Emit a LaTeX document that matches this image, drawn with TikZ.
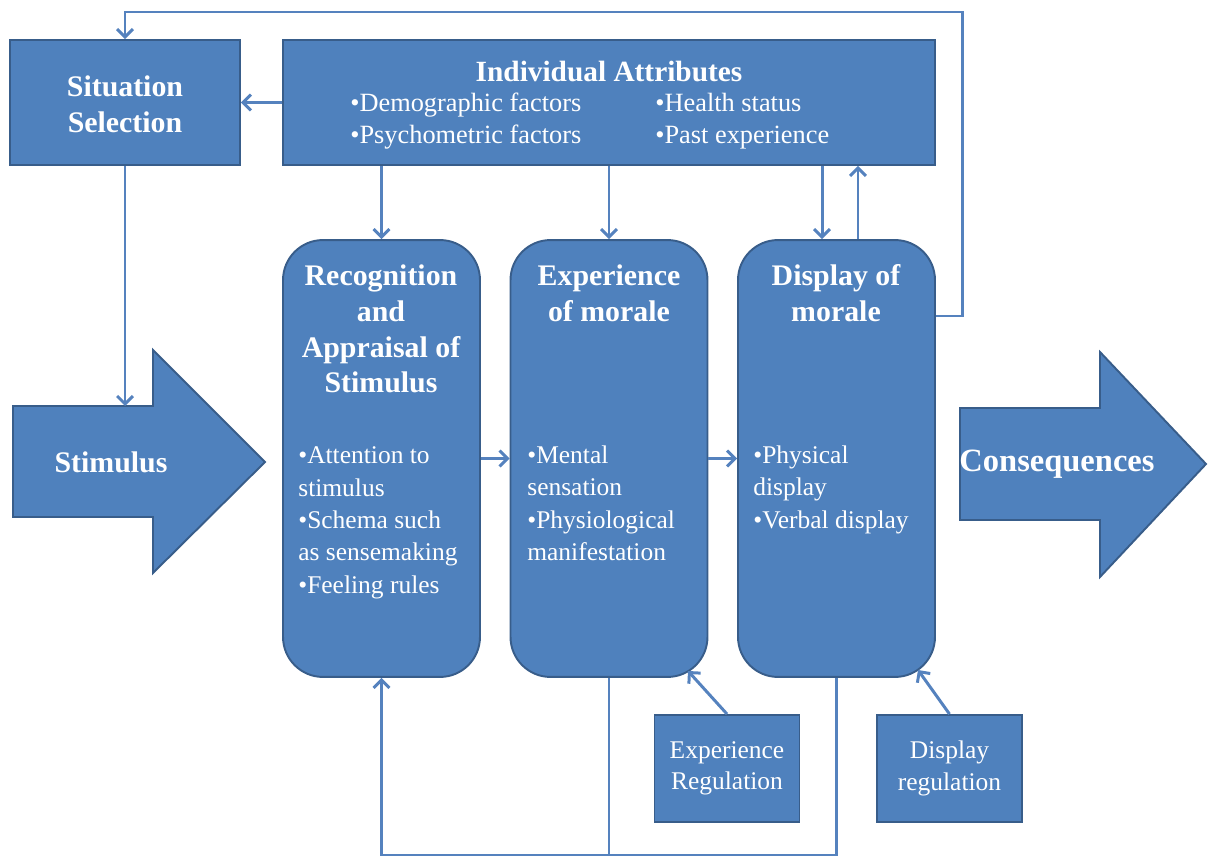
\documentclass[tikz,border=0pt]{standalone}
\usepackage{fontspec}
\setmainfont{Liberation Serif}
\usetikzlibrary{arrows.meta}
\definecolor{boxblue}{HTML}{4F81BD}
\definecolor{edgeblue}{HTML}{385D8A}
\definecolor{lineblue}{HTML}{5582BE}
\tikzset{
  box/.style={draw=edgeblue, fill=boxblue, line width=1.1pt, inner sep=0pt},
  stage/.style={box, rounded corners=0.8cm, minimum width=3.94cm, minimum height=8.74cm},
  regbox/.style={box, minimum width=2.9cm, minimum height=2.14cm, text=white, align=center, font=\fontsize{14.5}{18}\selectfont},
  head/.style={text=white, align=center, font=\bfseries\fontsize{17}{20.4}\selectfont},
  items/.style={text=white, align=left, anchor=base west, inner sep=0pt, font=\fontsize{14.5}{18.4}\selectfont},
  wire/.style={draw=lineblue, line width=1.7pt},
  conn/.style={wire, -{Straight Barb[length=4.5pt,width=9pt]}},
}

\begin{document}
\begin{tikzpicture}[x=0.02cm,y=-0.02cm]
  %%%%% START %%%%%
  \useasboundingbox (0,0) rectangle (1208,858);

  % top row
  \node[box, minimum width=4.6cm, minimum height=2.5cm] (sit) at (125,102.5) {};
  \node[head] (sittxt) at (125,104) {Situation\\Selection};
  \node[box, minimum width=13.04cm, minimum height=2.5cm] (attr) at (609,102.5) {};
  \node[head, font=\bfseries\fontsize{16.7}{20}\selectfont] (attrtxt) at (609,72) {Individual Attributes};
  % base anchor sits on the last line
  \node[items, font=\fontsize{15}{18.7}\selectfont] (attra) at (350,144) {•Demographic factors\\•Psychometric factors};
  \node[items, font=\fontsize{15}{18.7}\selectfont] (attrb) at (655,144) {•Health status\\•Past experience};

  % stages
  \node[stage] (rec) at (381.5,458.5) {};
  \node[stage] (exp) at (609,458.5) {};
  \node[stage] (disp) at (836.5,458.5) {};
  \node[head] (rectxt) at (381,329) {Recognition\\and\\Appraisal of\\Stimulus};
  \node[head] (exptxt) at (609,293) {Experience\\of morale};
  \node[head] (disptxt) at (836,293) {Display of\\morale};
  \node[items] (recl) at (298,593) {•Attention to\\stimulus\\•Schema such\\as sensemaking\\•Feeling rules};
  \node[items] (expl) at (527,560.5) {•Mental\\sensation\\•Physiological\\manifestation};
  \node[items] (displ) at (753,528) {•Physical\\display\\•Verbal display};

  % big arrows
  \draw[box] (13,406) -- (153,406) -- (153,350) -- (265,462) -- (153,573) -- (153,517) -- (13,517) -- cycle;
  \node[head] (stim) at (111,462) {Stimulus};
  \draw[box] (960,408) -- (1100,408) -- (1100,352) -- (1206,464) -- (1100,577) -- (1100,520) -- (960,520) -- cycle;
  \node[head, font=\bfseries\fontsize{18.5}{22}\selectfont] (cons) at (1057,464) {Consequences};

  % regulation
  \node[regbox] (expreg) at (727,768.5) {Experience\\Regulation};
  \node[regbox] (dispreg) at (949.5,768.5) {Display\\regulation};

  % helper points
  \coordinate (stimtop) at (125,406);
  \coordinate (fby) at (0,316);
  \coordinate (bot) at (0,855);
  \coordinate (dn) at ([xshift=-0.29cm]disp.north);
  \coordinate (up) at ([xshift=0.43cm]disp.north);
  \coordinate (expin) at (688,671);
  \coordinate (dispin) at (918,670);

  % connectors
  \draw[conn] (attr.west) -- (sit.east);
  \draw[conn] (sit.south) -- (stimtop);
  \draw[conn] (attr.south -| rec.north) -- (rec.north);
  \draw[conn] (attr.south -| exp.north) -- (exp.north);
  \draw[conn] (dn |- attr.south) -- (dn);
  \draw[conn] (up) -- (up |- attr.south);
  \draw[conn] (rec.east) -- (exp.west);
  \draw[conn] (exp.east) -- (disp.west);
  \draw[conn] (disp.east |- fby) -| (962,12) -| (sit.north);
  \draw[conn] (disp.south) -- (disp.south |- bot) -| (rec.south);
  \draw[wire] (exp.south) -- (exp.south |- bot);
  \draw[conn] (expreg.north) -- (expin);
  \draw[conn] (dispreg.north) -- (dispin);

  %%%%% END %%%%%
\end{tikzpicture}
\end{document}
